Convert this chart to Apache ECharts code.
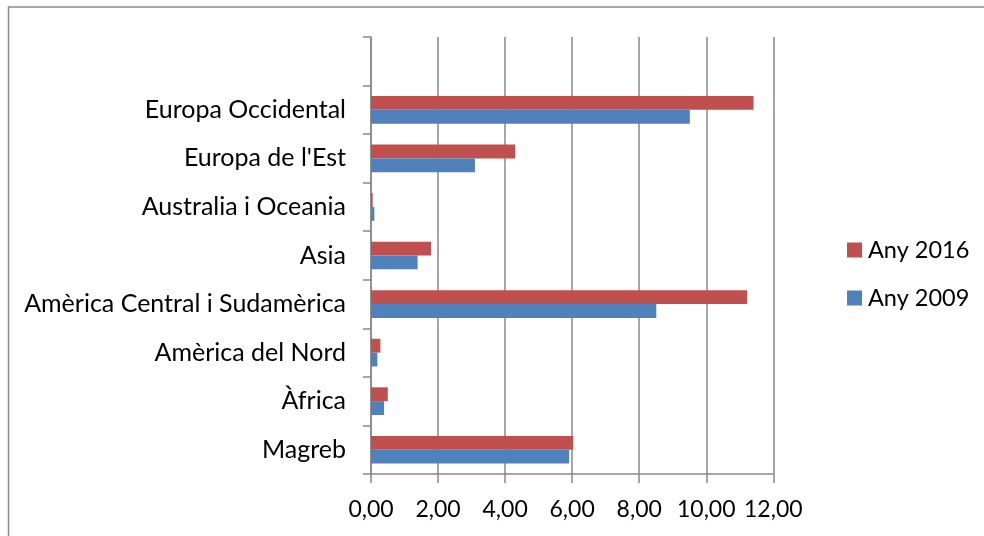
<!DOCTYPE html>
<html>
<head>
<meta charset="utf-8">
<script src="https://cdn.jsdelivr.net/npm/echarts@6/dist/echarts.min.js"></script>
<style>
html,body{margin:0;padding:0;background:#fff;}
#chart{width:984px;height:536px;}
</style>
</head>
<body>
<div id="chart"></div>
<script>
const categories = ['Magreb', 'Àfrica', 'Amèrica del Nord', 'Amèrica Central i Sudamèrica', 'Asia', 'Australia i Oceania', "Europa de l'Est", 'Europa Occidental', ''];
const any2016 = [6.03, 0.50, 0.28, 11.22, 1.79, 0.05, 4.30, 11.41, null];
const any2009 = [5.91, 0.39, 0.19, 8.51, 1.39, 0.10, 3.10, 9.51, null];
const seriesNames = ['Any 2016', 'Any 2009'];

const FONT = 'Lato';
const chart = echarts.init(document.getElementById('chart'), null, {renderer: 'canvas'});
chart.setOption({
  animation: false,
  backgroundColor: '#fff',
  textStyle: {fontFamily: FONT},
  graphic: [{
    type: 'rect',
    shape: {x: 8.5, y: 7, width: 1100, height: 700},
    style: {fill: 'none', stroke: '#8a8a8a', lineWidth: 1.5},
    silent: true
  }],
  legend: {
    orient: 'vertical',
    left: 847,
    top: 238,
    padding: 0,
    itemWidth: 15,
    itemHeight: 15,
    itemGap: 24,
    icon: 'rect',
    data: seriesNames,
    textStyle: {fontFamily: FONT, fontSize: 23.5, color: '#000', padding: [0, 0, 0, 1]}
  },
  grid: {left: 371, right: 210.7, top: 37, bottom: 62, containLabel: false},
  xAxis: {
    type: 'value',
    min: 0,
    max: 12,
    interval: 2,
    axisLine: {show: true, lineStyle: {color: '#898989', width: 1.5}},
    axisTick: {show: true, length: 9, lineStyle: {color: '#898989', width: 1.5}},
    splitLine: {show: true, lineStyle: {color: '#898989', width: 1.5}},
    axisLabel: {
      margin: 24,
      fontFamily: FONT,
      fontSize: 23,
      color: '#000',
      formatter: v => v.toFixed(2).replace('.', ',')
    }
  },
  yAxis: {
    type: 'category',
    data: categories,
    axisLine: {show: true, lineStyle: {color: '#898989', width: 1.5}},
    axisTick: {show: true, length: 8, lineStyle: {color: '#898989', width: 1.5}},
    axisLabel: {margin: 25, fontFamily: FONT, fontSize: 25, color: '#000'}
  },
  series: [
    {
      name: 'Any 2016',
      type: 'bar',
      data: any2016,
      itemStyle: {color: '#C0504D'},
      barGap: '0%',
      barCategoryGap: '43%'
    },
    {
      name: 'Any 2009',
      type: 'bar',
      data: any2009,
      itemStyle: {color: '#4F81BD'},
      barGap: '0%',
      barCategoryGap: '43%'
    }
  ]
});
</script>
</body>
</html>
